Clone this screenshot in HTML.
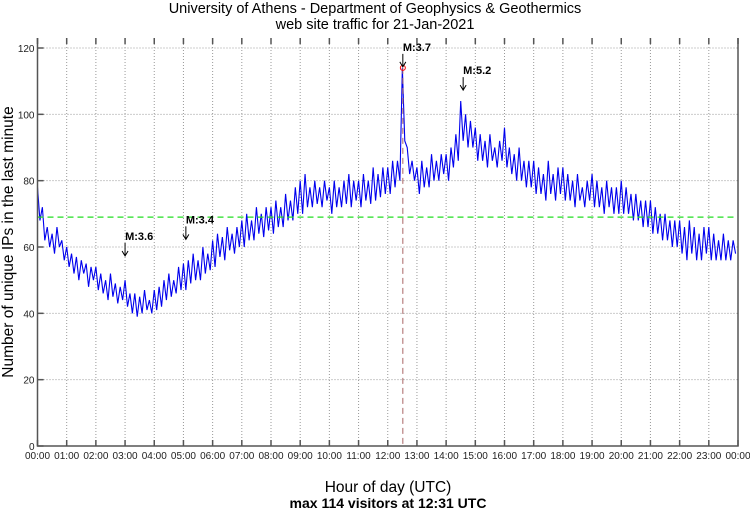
<!DOCTYPE html>
<html><head><meta charset="utf-8"><style>
body{margin:0;background:#fff;}
svg{display:block;font-family:"Liberation Sans",sans-serif;}
</style></head><body>
<svg id="chart" width="750" height="511" viewBox="0 0 750 511" xmlns="http://www.w3.org/2000/svg">
<text x="375" y="13" text-anchor="middle" font-size="14.5">University of Athens - Department of Geophysics &amp; Geothermics</text>
<text x="375" y="29" text-anchor="middle" font-size="14.5">web site traffic for 21-Jan-2021</text>
<text x="388" y="492" text-anchor="middle" font-size="15.5">Hour of day (UTC)</text>
<text x="388" y="508" text-anchor="middle" font-size="14" font-weight="bold">max 114 visitors at 12:31 UTC</text>
<text transform="translate(13,242) rotate(-90)" text-anchor="middle" font-size="15.5">Number of unique IPs in the last minute</text>
<g id="grid"></g><g id="series"></g><g id="overlay"></g><g id="axes"></g>
</svg>
<script>
const values = [
 78,68,72,62,66,60,64,58,66,60,62,56,
 60,54,58,52,57,50,56,52,55,48,54,50,
 54,47,52,46,50,44,52,45,49,43,48,44,
 50,42,46,40,46,39,45,40,47,41,44,40,
 47,41,48,42,50,44,52,45,50,46,54,47,
 55,47,56,49,58,50,56,50,60,52,58,53,
 62,54,64,57,63,56,66,59,64,58,66,60,
 68,60,70,62,68,62,72,64,70,63,72,65,
 72,64,74,66,72,66,76,68,74,68,78,70,
 80,70,82,72,78,72,80,73,78,72,80,74,
 78,70,80,72,78,72,80,73,82,72,80,74,
 80,72,82,74,80,73,84,74,82,75,84,76,
 84,76,86,78,86,80,114,92,90,82,86,80,
 84,76,86,78,84,78,88,80,86,80,88,82,
 88,80,90,84,94,86,104,92,100,90,98,90,
 96,86,94,86,92,84,94,86,90,84,92,86,
 96,84,90,82,88,80,90,80,86,78,86,78,
 86,76,84,76,82,74,86,76,82,74,84,76,
 84,74,82,74,80,72,82,74,78,72,80,74,
 82,72,80,72,78,70,80,72,78,70,78,70,
 80,70,78,70,76,68,76,68,74,66,74,66,
 74,64,72,64,70,62,70,62,68,60,68,60,
 68,58,66,56,68,58,66,56,64,56,66,58,
 66,56,64,56,62,56,64,56,62,56,62,58];
const stepMinutes = 5;
const yTicks = [0,20,40,60,80,100,120];
const hourLabels = ["00:00","01:00","02:00","03:00","04:00","05:00","06:00","07:00","08:00","09:00","10:00","11:00","12:00","13:00","14:00","15:00","16:00","17:00","18:00","19:00","20:00","21:00","22:00","23:00","00:00"];
const average = 69;
const maxValue = 114, maxMinute = 751;
const quakeLabels = ["M:3.6","M:3.4","M:3.7","M:5.2"];
const quakeMinutes = [180,305,751,875];
const quakeValues = [57,62,114,107];

const NS="http://www.w3.org/2000/svg";
const L=37.5,R=738,T=38,B=446;
const x=m=>L+(R-L)*m/1440;
const y=v=>B-(B-48)*v/120;
function mk(tag,attrs,parent,txt){const e=document.createElementNS(NS,tag);for(const k in attrs)e.setAttribute(k,attrs[k]);if(txt!==undefined)e.textContent=txt;document.getElementById(parent).appendChild(e);return e;}

hourLabels.forEach((lab,i)=>{
  const xx=x(i*60);
  if(i>0&&i<24){const g=mk('line',{x1:xx,x2:xx,y1:T,y2:B,stroke:'#999','stroke-width':1,'stroke-dasharray':'1,2'},'grid');
  
  }
  const t1=mk('line',{x1:xx,x2:xx,y1:B,y2:B-6,stroke:'#555','stroke-width':1.5},'axes');
  
  
  const t2=mk('line',{x1:xx,x2:xx,y1:T,y2:T+6,stroke:'#555','stroke-width':1.5},'axes');
  
  
  const tl=mk('text',{x:xx,y:B+13,'text-anchor':'middle','font-size':10,fill:'#222'},'axes',lab);
  
  
});
yTicks.forEach(v=>{
  const yy=y(v);
  if(v>0){const g=mk('line',{x1:L,x2:R,y1:yy,y2:yy,stroke:'#999','stroke-width':1,'stroke-dasharray':'1,2'},'grid');
  
  }
  const t=mk('line',{x1:L,x2:L+6,y1:yy,y2:yy,stroke:'#555','stroke-width':1.5},'axes');
  
  
  const tl=mk('text',{x:L-3,y:yy+4,'text-anchor':'end','font-size':10,fill:'#222'},'axes',v);
  
  
});
const frame=mk('path',{d:`M${L},${T}V${B}H${R}V${T}`,fill:'none',stroke:'#555','stroke-width':1.5},'axes');



const pts=values.map((v,i)=>x(i*stepMinutes)+','+y(v)).join(' ');
const line=mk('polyline',{points:pts,fill:'none',stroke:'#0000ee','stroke-width':1.1},'series');



const avg=mk('line',{x1:L,x2:R,y1:y(average),y2:y(average),stroke:'#22dd22','stroke-width':1.2,'stroke-dasharray':'6,4'},'overlay');


const mv=mk('line',{x1:x(maxMinute),x2:x(maxMinute),y1:y(maxValue),y2:B,stroke:'#aa6666','stroke-width':1,'stroke-dasharray':'6,4'},'overlay');


const mc=mk('circle',{cx:x(maxMinute),cy:y(maxValue),r:2.5,fill:'none',stroke:'red','stroke-width':1},'overlay');



quakeLabels.forEach((lab,i)=>{
  const xx=x(quakeMinutes[i]), top=y(quakeValues[i])-14;
  const a=mk('path',{d:`M${xx},${top}V${top+13}M${xx-3},${top+8}L${xx},${top+13}L${xx+3},${top+8}`,fill:'none',stroke:'#000','stroke-width':1},'overlay');
  
  
  const t=mk('text',{x:xx,y:top-3,'font-size':11,'font-weight':'bold'},'overlay',lab);
  
  
});
</script>
</body></html>
